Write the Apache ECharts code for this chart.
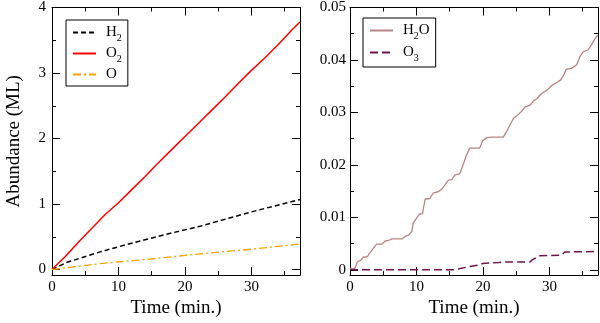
<!DOCTYPE html>
<html>
<head>
<meta charset="utf-8">
<title>Abundance vs time</title>
<style>
  html, body { margin: 0; padding: 0; background: #fff; }
  #chart { width: 600px; height: 323px; }
</style>
<script src="https://cdn.jsdelivr.net/npm/echarts@6.0.0/dist/echarts.min.js"></script>
</head>
<body>
<div id="chart"></div>
<script>
// ---- data: [time (min.), abundance (ML)] ----
const h2Data = [[0, 0], [2.25, 0.11], [7.25, 0.27], [12.25, 0.41], [17.25, 0.54],
  [22.25, 0.66], [30, 0.88], [37.3, 1.07]];
const o2Data = [[0, 0], [2, 0.2], [4, 0.42], [6, 0.63], [8, 0.84], [10, 1.02],
  [12, 1.22], [14, 1.42], [16, 1.63], [18, 1.83], [20, 2.03], [22, 2.23],
  [24, 2.43], [26, 2.63], [28, 2.84], [30, 3.04], [32, 3.23], [34, 3.43],
  [36, 3.65], [37.3, 3.78]];
const oData = [[0, 0], [7.25, 0.09], [14.75, 0.16], [22.25, 0.24], [30, 0.31], [37.3, 0.39]];

const h2oData = [[0, 0.0003], [0.75, 0.0003], [1.1, 0.0015], [1.6, 0.0018], [2.0, 0.0024],
  [2.6, 0.0025], [3.0, 0.0033], [3.5, 0.0041], [4.0, 0.0049], [4.8, 0.0049],
  [5.3, 0.0055], [5.8, 0.0056], [6.3, 0.0059], [7.8, 0.0059], [8.3, 0.0064],
  [8.8, 0.0066], [9.3, 0.0073], [9.5, 0.0089], [10.0, 0.0098], [10.4, 0.0106],
  [10.9, 0.0107], [11.3, 0.0135], [12.0, 0.0136], [12.5, 0.0146], [13.3, 0.0149],
  [13.8, 0.0154], [14.3, 0.0162], [14.8, 0.0171], [15.3, 0.0172], [15.8, 0.0181],
  [16.5, 0.0183], [17.0, 0.02], [17.5, 0.0218], [18.0, 0.0232], [19.5, 0.0232],
  [19.95, 0.0246], [20.6, 0.0252], [21.3, 0.0253], [23.05, 0.0253], [23.6, 0.0265],
  [24.1, 0.0277], [24.6, 0.0289], [25.3, 0.0296], [25.8, 0.0302], [26.3, 0.031],
  [27.1, 0.0314], [27.6, 0.0322], [28.1, 0.0326], [28.8, 0.0336], [29.6, 0.0342],
  [30.3, 0.0351], [31.1, 0.0357], [31.7, 0.0362], [32.1, 0.037], [32.5, 0.0382],
  [33.3, 0.0384], [34.1, 0.0391], [34.6, 0.0407], [35.1, 0.0416], [35.8, 0.0419],
  [36.2, 0.0427], [36.9, 0.0441], [37.3, 0.0448]];
const o3Data = [[0, 0], [15.5, 0], [16.4, 0.0002], [17.9, 0.0006], [19.4, 0.0009],
  [19.9, 0.0012], [22.4, 0.0014], [23.4, 0.0015], [27.1, 0.0015], [27.4, 0.0019],
  [28.6, 0.0027], [31.8, 0.0028], [32.3, 0.0034], [37.3, 0.0035]];

// ---- ticks ----
const xMajor = [0, 10, 20, 30];
const xMinor = [5, 15, 25, 35];
const yLeftMajor = [0, 1, 2, 3, 4];
const yLeftMinor = [0.5, 1.5, 2.5, 3.5];
const yRightMajor = [0, 0.01, 0.02, 0.03, 0.04, 0.05];
const yRightMinor = [0.005, 0.015, 0.025, 0.035, 0.045];

const X_MAX = 37.3;
const FONT = "'Liberation Serif', 'DejaVu Serif', serif";

// 坐标轴：主刻度/次刻度各一条，底+顶、左+右镜像
function axis(extra) {
  return Object.assign({
    type: 'value',
    splitLine: { show: false },
    axisLine: { show: false, onZero: false },
    axisLabel: { show: false },
    axisTick: { show: false }
  }, extra);
}

function ticks(values, len) {
  return { show: true, inside: true, length: len, customValues: values,
    lineStyle: { color: '#000', width: 1 } };
}

function xAxesFor(grid) {
  const line = { show: true, onZero: false, lineStyle: { color: '#000', width: 1 } };
  const base = { gridIndex: grid, min: 0, max: X_MAX };
  return [
    axis(Object.assign({}, base, {
      position: 'bottom', axisLine: line, axisTick: ticks(xMajor, 8),
      axisLabel: { show: true, customValues: xMajor, margin: 4, color: '#000',
        fontSize: 15, fontFamily: FONT },
      name: 'Time (min.)', nameLocation: 'middle', nameGap: 19,
      nameTextStyle: { color: '#000', fontSize: 19, fontFamily: FONT }
    })),
    axis(Object.assign({}, base, { position: 'bottom', axisTick: ticks(xMinor, 4) })),
    axis(Object.assign({}, base, { position: 'top', axisLine: line, axisTick: ticks(xMajor, 8) })),
    axis(Object.assign({}, base, { position: 'top', axisTick: ticks(xMinor, 4) }))
  ];
}

function yAxesFor(grid, min, max, major, minor, name, margin) {
  const line = { show: true, onZero: false, lineStyle: { color: '#000', width: 1 } };
  const base = { gridIndex: grid, min: min, max: max };
  const first = {
    position: 'left', axisLine: line, axisTick: ticks(major, 8),
    axisLabel: { show: true, customValues: major, margin: margin, color: '#000',
      fontSize: 15, fontFamily: FONT }
  };
  if (name) {
    Object.assign(first, {
      name: name, nameLocation: 'middle', nameGap: 28,
      nameTextStyle: { color: '#000', fontSize: 19, fontFamily: FONT }
    });
  }
  return [
    axis(Object.assign({}, base, first)),
    axis(Object.assign({}, base, { position: 'left', axisTick: ticks(minor, 4) })),
    axis(Object.assign({}, base, { position: 'right', axisLine: line, axisTick: ticks(major, 8) })),
    axis(Object.assign({}, base, { position: 'right', axisTick: ticks(minor, 4) }))
  ];
}

// 化学式下标，如 H2O -> H{2}O
function chemLabel(name) {
  return '{g| }' + name.replace(/([A-Za-z]+)|(\d+)/g,
    (m, a, d) => a ? '{n|' + a + '}' : '{s|' + d + '}');
}

const legendText = {
  color: '#000',
  fontFamily: FONT,
  rich: {
    g: { width: 5 },
    n: { fontSize: 15, lineHeight: 15, fontFamily: FONT, color: '#000', verticalAlign: 'top' },
    s: { fontSize: 10, lineHeight: 9, padding: [8, 0, 0, 0], fontFamily: FONT,
      color: '#000', verticalAlign: 'top' }
  }
};

function legendFor(names, left, top, gap) {
  return {
    data: names,
    orient: 'vertical',
    left: left,
    top: top,
    itemWidth: 23,
    itemHeight: 14,
    itemGap: gap,
    padding: [5, 6, 4, 6],
    borderColor: '#000',
    borderWidth: 1,
    backgroundColor: '#fff',
    itemStyle: { opacity: 0 },   // 只显示线型，不画圆点
    formatter: chemLabel,
    textStyle: legendText
  };
}

function lineSeries(name, data, xi, yi, color, width, type) {
  return {
    name: name, type: 'line', data: data,
    xAxisIndex: xi, yAxisIndex: yi,
    symbol: 'none', showSymbol: false, smooth: false,
    lineStyle: { color: color, width: width, type: type },
    itemStyle: { color: color },
    z: 2
  };
}

const chart = echarts.init(document.getElementById('chart'));
chart.setOption({
  animation: false,
  backgroundColor: '#fff',
  grid: [
    { left: 52, top: 6, width: 248, height: 274 },
    { left: 350, top: 6, width: 248, height: 274 }
  ],
  xAxis: xAxesFor(0).concat(xAxesFor(1)),
  yAxis: yAxesFor(0, -0.085, 4, yLeftMajor, yLeftMinor, 'Abundance (ML)', 6)
    .concat(yAxesFor(1, -0.001, 0.05, yRightMajor, yRightMinor, null, 4)),
  legend: [
    legendFor(['H2', 'O2', 'O'], 66, 20, 3),
    legendFor(['H2O', 'O3'], 363, 18, 4)
  ],
  series: [
    lineSeries('H2', h2Data, 0, 0, '#000000', 1.5, [5, 3]),
    lineSeries('O2', o2Data, 0, 0, '#ff0000', 1.5, 'solid'),
    lineSeries('O', oData, 0, 0, '#f5a300', 1.3, [8, 3, 2, 3]),
    lineSeries('H2O', h2oData, 4, 4, '#b98484', 1.3, 'solid'),
    lineSeries('O3', o3Data, 4, 4, '#6e1450', 1.5, [8, 4])
  ]
});
</script>
</body>
</html>
